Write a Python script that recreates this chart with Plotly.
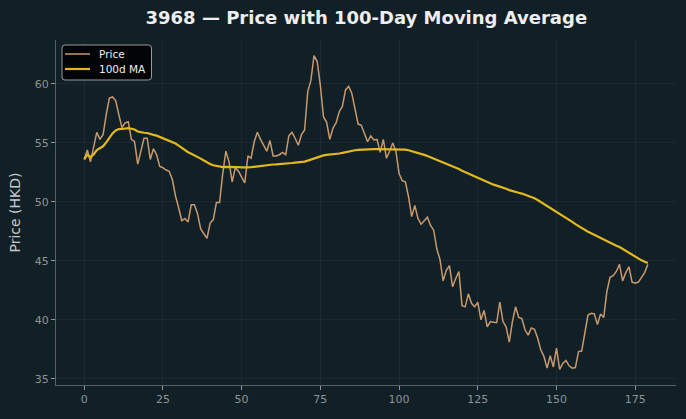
import pandas as pd
import plotly.graph_objects as go

title = "3968 — Price with 100-Day Moving Average"
y_label = "Price (HKD)"
price_name = "Price"
ma_name = "100d MA"
ma_window = 100

price = [
    53.6, 54.4, 53.4, 54.7, 55.9, 55.3, 55.7, 57.4, 58.8, 58.9,
    58.6, 57.4, 56.3, 56.7, 56.8, 55.3, 55.1, 53.2, 54.4, 55.4,
    55.4, 53.6, 54.5, 54.0, 53.0, 52.9, 52.7, 52.6, 51.9, 50.5,
    49.5, 48.4, 48.6, 48.3, 49.75, 49.75, 49.0, 47.7, 47.3, 46.9,
    48.2, 48.5, 49.95, 49.95, 52.4, 54.3, 53.4, 51.7, 52.9, 52.6,
    52.1, 51.6, 53.9, 53.7, 55.1, 55.9, 55.3, 54.8, 54.3, 55.2,
    53.9, 53.9, 54.0, 54.2, 54.0, 55.6, 55.9, 55.4, 54.8, 55.7,
    56.1, 59.35, 60.3, 62.4, 61.9, 59.9, 57.2, 56.75, 55.3, 56.25,
    56.7, 57.65, 58.1, 59.5, 59.8, 59.2, 57.9, 56.6, 56.5, 55.7,
    55.1, 55.6, 55.25, 55.3, 54.2, 55.3, 53.7, 54.3, 55.0, 54.3,
    52.4, 51.8, 51.7, 50.45, 48.75, 49.7, 48.6, 48.1, 48.4, 48.7,
    48.0, 47.6, 46.0, 45.1, 43.3, 44.2, 44.6, 42.8, 43.5, 44.1,
    41.2, 41.1, 42.2, 41.4, 41.1, 41.5, 40.0, 40.8, 39.4, 39.85,
    39.8, 39.75, 41.5, 39.85, 39.4, 38.1, 39.85, 41.1, 40.2, 40.1,
    39.15, 38.7, 39.3, 39.2, 38.45, 37.45, 36.9, 35.9, 36.95, 36.0,
    37.6, 35.8, 36.3, 36.55, 36.1, 35.9, 35.95, 37.3, 37.35, 38.9,
    40.4, 40.55, 40.5, 39.6, 40.5, 40.2, 42.4, 43.6, 43.75, 44.1,
    44.7, 43.3, 44.0, 44.5, 43.2, 43.1, 43.2, 43.6, 44.0, 44.7,
]
days = list(range(len(price)))
ma = pd.Series(price).rolling(ma_window, min_periods=1).mean().tolist()

x_ticks = [0, 25, 50, 75, 100, 125, 150, 175]
y_ticks = [35, 40, 45, 50, 55, 60]

bg = "#111f26"
grid = "rgba(255,255,255,0.045)"
axis_col = "#5a5f62"
price_col = "#c9996c"
ma_col = "#e3b91c"
tick_font = dict(family="DejaVu Sans", size=11, color="#8f9496")

fig = go.Figure()
fig.add_trace(go.Scatter(x=days, y=price, mode="lines", name=price_name,
                         line=dict(color=price_col, width=1.5)))
fig.add_trace(go.Scatter(x=days, y=ma, mode="lines", name=ma_name,
                         line=dict(color=ma_col, width=2.2)))

n = len(price)
xpad = (n - 1) * 0.05
ymin, ymax = min(price), max(price)
ypad = (ymax - ymin) * 0.05

# legend box drawn in paper coordinates (plot area 620 x 345 px)
W, H = 620.0, 345.0
def px(xp):
    return (xp - 56) / W
def py(yp):
    return (385 - yp) / H

x0, x1, y0, y1 = px(62), px(151.5), py(80), py(45)
rx, ry = 3 / W, 3 / H
path = (f"M {x0+rx},{y0} L {x1-rx},{y0} Q {x1},{y0} {x1},{y0+ry} "
        f"L {x1},{y1-ry} Q {x1},{y1} {x1-rx},{y1} L {x0+rx},{y1} "
        f"Q {x0},{y1} {x0},{y1-ry} L {x0},{y0+ry} Q {x0},{y0} {x0+rx},{y0} Z")
shapes = [
    dict(type="path", xref="paper", yref="paper", path=path,
         fillcolor="rgba(0,0,0,0.85)", line=dict(color="#9a9a9a", width=1)),
    dict(type="line", xref="paper", yref="paper", x0=px(65), x1=px(90), y0=py(54), y1=py(54),
         line=dict(color=price_col, width=1.5)),
    dict(type="line", xref="paper", yref="paper", x0=px(65), x1=px(90), y0=py(69), y1=py(69),
         line=dict(color=ma_col, width=2.2)),
]
annotations = [
    dict(xref="paper", yref="paper", x=px(97), y=py(54), text=price_name, showarrow=False,
         xanchor="left", yanchor="middle", font=dict(family="DejaVu Sans", size=10.5, color="#eeeeee")),
    dict(xref="paper", yref="paper", x=px(97), y=py(69), text=ma_name, showarrow=False,
         xanchor="left", yanchor="middle", font=dict(family="DejaVu Sans", size=10.5, color="#eeeeee")),
]

fig.update_layout(
    width=686, height=419,
    paper_bgcolor=bg, plot_bgcolor=bg,
    margin=dict(l=56, r=10, t=40, b=34),
    title=dict(text="<b>" + title + "</b>", x=0.534, xanchor="center", y=0.957, yanchor="middle",
               font=dict(family="DejaVu Sans", size=18, color="#eeeeee")),
    showlegend=False,
    shapes=shapes,
    annotations=annotations,
    xaxis=dict(range=[-xpad, n - 1 + xpad], tickvals=x_ticks, showgrid=True, gridcolor=grid,
               zeroline=False, showline=True, linecolor=axis_col, linewidth=1,
               ticks="outside", ticklen=4, tickcolor="#8f9496", tickfont=tick_font),
    yaxis=dict(range=[ymin - ypad, ymax + ypad], tickvals=y_ticks, showgrid=True, gridcolor=grid,
               zeroline=False, showline=True, linecolor=axis_col, linewidth=1,
               ticks="outside", ticklen=4, tickcolor="#8f9496", tickfont=tick_font,
               title=dict(text=y_label, standoff=10,
                          font=dict(family="DejaVu Sans", size=14, color="#c8cacb"))),
)

fig.write_html("out.html")
